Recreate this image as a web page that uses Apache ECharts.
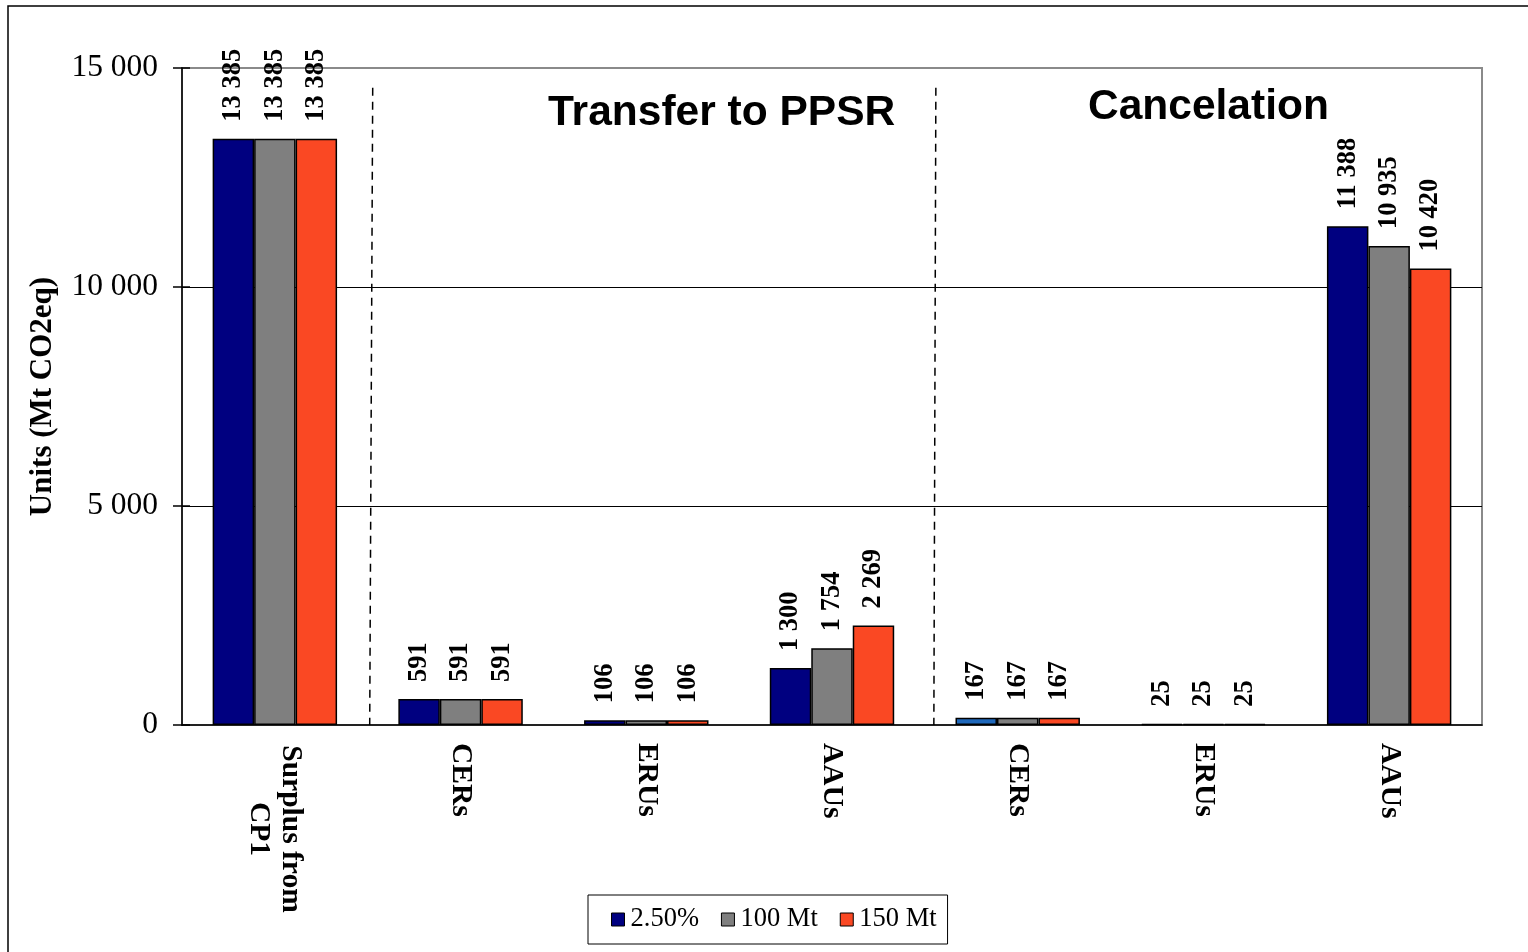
<!DOCTYPE html>
<html>
<head>
<meta charset="utf-8">
<script src="https://cdn.jsdelivr.net/npm/echarts@6/dist/echarts.min.js"></script>
<style>
    html, body { margin: 0; padding: 0; background: #fff; }
    #main { width: 1528px; height: 952px; }
</style>
</head>
<body>
<div id="main"></div>
<script>
var categories = ['Surplus from\nCP1', 'CERs', 'ERUs', 'AAUs', 'CERs', 'ERUs', 'AAUs'];
var seriesNames = ['2.50%', '100 Mt', '150 Mt'];
var pct250 = [13385, 591, 106, 1300, 167, 25, 11388];
var mt100 = [13385, 591, 106, 1754, 167, 25, 10935];
var mt150 = [13385, 591, 106, 2269, 167, 25, 10420];
var yTicks = [0, 5000, 10000, 15000];
var sectionTitles = ['Transfer to PPSR', 'Cancelation'];

var colors = ['#000080', '#7f7f7f', '#fa4823'];
var serif = 'Liberation Serif';

function spaced(v) {
    return String(v).replace(/\B(?=(\d{3})+(?!\d))/g, ' ');
}

var chart = echarts.init(document.getElementById('main'));

function makeSeries(name, values, idx) {
    var data = values.map(function (v, i) {
        // first bar in the cancelation CERs group is a lighter blue in the original
        if (idx === 0 && i === 4) {
            return {value: v, itemStyle: {color: '#1f68bb'}};
        }
        return v;
    });
    return {
        name: name,
        type: 'bar',
        barGap: '0%',
        barCategoryGap: '33%',
        itemStyle: {color: colors[idx], borderColor: '#000', borderWidth: 1.5},
        label: {
            show: true,
            position: 'top',
            rotate: 90,
            align: 'left',
            verticalAlign: 'middle',
            distance: 17,
            fontFamily: serif,
            fontWeight: 'bold',
            fontSize: 26.5,
            color: '#000',
            formatter: function (p) { return spaced(p.value); }
        },
        data: data
    };
}

var option = {
    animation: false,
    backgroundColor: '#fff',
    title: [
        {
            text: sectionTitles[0], left: 543, top: 87,
            textStyle: {fontFamily: 'Liberation Sans', fontWeight: 'bold', fontSize: 42.5, color: '#000'}
        },
        {
            text: sectionTitles[1], left: 1083, top: 81,
            textStyle: {fontFamily: 'Liberation Sans', fontWeight: 'bold', fontSize: 42.5, color: '#000'}
        }
    ],
    legend: {
        data: seriesNames,
        left: 588,
        top: 895,
        padding: [11, 11, 11, 23],
        itemGap: 22,
        itemWidth: 13,
        itemHeight: 13,
        icon: 'rect',
        borderColor: '#000',
        borderWidth: 1,
        itemStyle: {borderColor: '#000', borderWidth: 1},
        textStyle: {fontFamily: serif, fontSize: 26.5, color: '#000', padding: [0, 0, 0, 1]}
    },
    grid: {
        left: 182,
        right: 46,
        top: 68,
        bottom: 227,
        show: true,
        borderColor: '#8a8a8a',
        borderWidth: 2
    },
    xAxis: {
        type: 'category',
        data: categories,
        axisLine: {lineStyle: {color: '#000', width: 1.5}},
        axisTick: {length: 10, lineStyle: {color: '#000', width: 1.5}},
        axisLabel: {
            rotate: -90,
            margin: 18,
            interval: 0,
            color: '#000',
            fontFamily: serif,
            fontWeight: 'bold',
            fontSize: 29.5,
            formatter: function (v, i) {
                if (v.indexOf('\n') >= 0) {
                    return v.split('\n').map(function (s) { return '{c|' + s + '}'; }).join('\n');
                }
                return v;
            },
            rich: {
                c: {
                    width: 172, align: 'center', fontFamily: serif,
                    fontWeight: 'bold', fontSize: 29.5, color: '#000', lineHeight: 32
                }
            }
        }
    },
    yAxis: [
        {
            type: 'value',
            min: yTicks[0],
            max: yTicks[yTicks.length - 1],
            interval: yTicks[1] - yTicks[0],
            name: 'Units (Mt CO2eq)',
            nameLocation: 'middle',
            nameGap: 124,
            nameTextStyle: {fontFamily: serif, fontWeight: 'bold', fontSize: 31, color: '#000'},
            axisLine: {show: true, lineStyle: {color: '#000', width: 1.5}},
            axisTick: {show: true, length: 9, lineStyle: {color: '#000', width: 1.5}},
            axisLabel: {
                margin: 24,
                color: '#000',
                fontFamily: serif,
                fontSize: 31.5,
                formatter: function (v) { return spaced(v); }
            },
            splitLine: {show: true, showMinLine: false, showMaxLine: false, lineStyle: {color: '#000', width: 1}}
        },
        {
            type: 'value',
            position: 'left',
            min: yTicks[0],
            max: yTicks[yTicks.length - 1],
            interval: yTicks[1] - yTicks[0],
            axisLine: {show: false},
            axisTick: {show: true, inside: true, length: 8, lineStyle: {color: '#000', width: 1.5}},
            axisLabel: {show: false},
            splitLine: {show: false}
        }
    ],
    series: [
        makeSeries(seriesNames[0], pct250, 0),
        makeSeries(seriesNames[1], mt100, 1),
        makeSeries(seriesNames[2], mt150, 2)
    ]
};

chart.setOption(option);

// dashed separators between the section groups, near the category boundaries
function boundaryX(i) {
    var a = chart.convertToPixel({xAxisIndex: 0}, i);
    var b = chart.convertToPixel({xAxisIndex: 0}, i + 1);
    return (a + b) / 2;
}
var yTop = chart.convertToPixel({yAxisIndex: 0}, 14550);
var yBottom = chart.convertToPixel({yAxisIndex: 0}, 0);
var seps = [
    [boundaryX(0) + 5, boundaryX(0) + 2],
    [boundaryX(3) + 11, boundaryX(3) + 9]
];

chart.setOption({
    graphic: [
        {
            type: 'rect',
            shape: {x: 8, y: 6, width: 1600, height: 1000},
            style: {fill: 'none', stroke: '#000', lineWidth: 1.5},
            silent: true
        }
    ].concat(seps.map(function (s) {
        return {
            type: 'line',
            shape: {x1: s[0], y1: yTop, x2: s[1], y2: yBottom},
            style: {stroke: '#000', lineWidth: 1.5, lineDash: [8, 6]},
            silent: true
        };
    }))
});
</script>
</body>
</html>
